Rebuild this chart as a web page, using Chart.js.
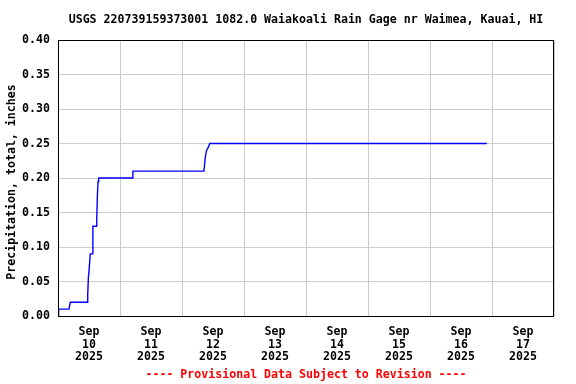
<!DOCTYPE html>
<html>
<head>
<meta charset="utf-8">
<script src="https://cdn.jsdelivr.net/npm/chart.js@4"></script>
<style>
  html, body { margin: 0; padding: 0; background: #fff; }
  #wrap { width: 576px; height: 384px; }
</style>
</head>
<body>
<div id="wrap"><canvas id="mycanvas" width="576" height="384"></canvas></div>
<script>
var chartTitle = 'USGS 220739159373001 1082.0 Waiakoali Rain Gage nr Waimea, Kauai, HI';
var yTitle = 'Precipitation, total, inches';
var footNote = '---- Provisional Data Subject to Revision ----';
var months = ['Jan','Feb','Mar','Apr','May','Jun','Jul','Aug','Sep','Oct','Nov','Dec'];

var rangeStart = '2025-09-10T00:00';
var rangeEnd = '2025-09-18T00:00';
var yTicks = [0, 0.05, 0.10, 0.15, 0.20, 0.25, 0.30, 0.35, 0.40];

// total precipitation readings
var times = [
	'2025-09-10T00:00', '2025-09-10T00:15', '2025-09-10T04:15', '2025-09-10T04:30',
	'2025-09-10T04:45', '2025-09-10T11:15', '2025-09-10T11:30', '2025-09-10T11:45',
	'2025-09-10T12:00', '2025-09-10T12:30', '2025-09-10T13:15', '2025-09-10T13:30',
	'2025-09-10T14:45', '2025-09-10T15:00', '2025-09-10T15:15', '2025-09-10T15:30',
	'2025-09-10T15:45', '2025-09-11T04:45', '2025-09-11T05:00', '2025-09-12T08:30',
	'2025-09-12T08:45', '2025-09-12T09:00', '2025-09-12T09:30', '2025-09-12T10:15',
	'2025-09-12T10:45', '2025-09-16T22:00'
];
var precip = [
	0.00, 0.01, 0.01, 0.015,
	0.02, 0.02, 0.03, 0.055,
	0.065, 0.09, 0.09, 0.13,
	0.13, 0.14, 0.175, 0.195,
	0.20, 0.20, 0.21, 0.21,
	0.22, 0.23, 0.24, 0.245,
	0.25, 0.25
];

var HOUR = 3600000;
var t0 = Date.parse(rangeStart);
var t1 = Date.parse(rangeEnd);

var points = [];
for (var i in times) {
	points.push({x: Date.parse(times[i]), y: precip[i]});
}

var FONT = {family: '"DejaVu Sans Mono", monospace', size: 11.6, weight: 'bold', lineHeight: 1.12};

var textPlugin = {
	id: 'usgsText',
	afterDraw: function(chart) {
		var c = chart.ctx, a = chart.chartArea;
		c.save();
		c.strokeStyle = '#000';
		c.lineWidth = 1;
		c.strokeRect(a.left + 0.5, a.top + 0.5, a.right - a.left - 1, a.bottom - a.top);
		c.font = 'bold 11.6px "DejaVu Sans Mono", monospace';
		c.textAlign = 'center';
		c.textBaseline = 'middle';
		c.fillStyle = '#000';
		c.fillText(chartTitle, (a.left + a.right) / 2, 20);
		c.fillStyle = '#ff0000';
		c.fillText(footNote, (a.left + a.right) / 2, 375);
		c.translate(12, 182);
		c.rotate(-Math.PI / 2);
		c.fillStyle = '#000';
		c.fillText(yTitle, 0, 0);
		c.restore();
	}
};

var ctx = document.getElementById('mycanvas');
var chart = new Chart(ctx, {
	type: 'line',
	data: {
		datasets: [{
			data: points,
			borderColor: '#0000ff',
			borderWidth: 1.4,
			pointRadius: 0,
			fill: false,
			tension: 0
		}]
	},
	options: {
		responsive: false,
		animation: false,
		layout: {padding: {top: 40, right: 22, left: 0, bottom: 0}},
		plugins: {legend: {display: false}, tooltip: {enabled: false}},
		scales: {
			x: {
				type: 'linear',
				min: t0,
				max: t1,
				afterBuildTicks: function(scale) {
					var ticks = [];
					for (var t = t0; t <= t1; t += 12 * HOUR) ticks.push({value: t});
					scale.ticks = ticks;
				},
				afterFit: function(scale) { scale.height = 68; },
				border: {display: false},
				grid: {
					drawTicks: false,
					lineWidth: 1,
					color: function(c) {
						if (!c.tick) return '#cccccc';
						var h = Math.round((c.tick.value - t0) / HOUR);
						return (h % 24 === 0) ? '#cccccc' : 'rgba(0,0,0,0)';
					}
				},
				ticks: {
					autoSkip: false,
					maxRotation: 0,
					padding: 9,
					color: '#000',
					font: FONT,
					callback: function(v) {
						var h = Math.round((v - t0) / HOUR);
						if (h % 24 !== 12) return '';
						var d = new Date(v);
						return [months[d.getMonth()], String(d.getDate()), String(d.getFullYear())];
					}
				}
			},
			y: {
				min: 0,
				max: 0.40,
				afterBuildTicks: function(scale) {
					scale.ticks = yTicks.map(function(v) { return {value: v}; });
				},
				afterFit: function(scale) { scale.width = 58; },
				border: {display: false},
				grid: {drawTicks: false, color: '#cccccc', lineWidth: 1},
				ticks: {
					padding: 8,
					color: '#000',
					font: FONT,
					callback: function(v) { return v.toFixed(2); }
				}
			}
		}
	},
	plugins: [textPlugin]
});
</script>
</body>
</html>
